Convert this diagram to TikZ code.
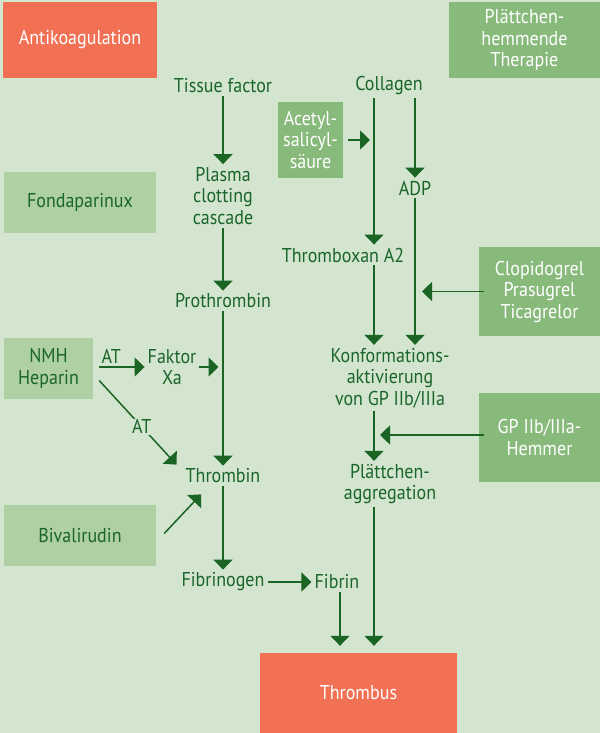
\documentclass[tikz,border=0pt]{standalone}
\usepackage{fontspec}
\setmainfont{PT Sans}[FakeStretch=0.9]
\usetikzlibrary{arrows.meta}

\definecolor{bg}{HTML}{D3E4CF}
\definecolor{darktext}{HTML}{1A6529}
\definecolor{arrowgreen}{HTML}{1A6424}
\definecolor{lightbox}{HTML}{AED0A2}
\definecolor{darkbox}{HTML}{88BA7B}
\definecolor{redbox}{HTML}{F27054}

\tikzset{
  every node/.style={font=\fontsize{20}{21.5}\selectfont, text=darktext, align=center, inner sep=3pt},
  lightfill/.style={fill=lightbox, inner sep=0pt},
  darkfill/.style={fill=darkbox, text=white, inner sep=0pt},
  redfill/.style={fill=redbox, text=white, inner sep=0pt},
  flow/.style={draw=arrowgreen, line width=1.5pt, -{Triangle[width=19pt,length=10pt]}},
}

\begin{document}
\begin{tikzpicture}[x=1pt,y=-1pt]
\fill[bg] (0,0) rectangle (600,733);
\useasboundingbox (0,0) rectangle (600,733);

\draw (80,40)      node (anti) [redfill, minimum width=154pt, minimum height=76pt] {Antikoagulation};
\draw (524.5,40)   node (ptt)  [darkfill, minimum width=151pt, minimum height=76pt] {Plättchen-\\hemmende\\Therapie};
\draw (80,202)     node (fonda) [lightfill, minimum width=152pt, minimum height=61pt] {Fondaparinux};
\draw (48.5,368.5) node (nmh)  [lightfill, minimum width=89pt, minimum height=61pt] {NMH\\Heparin};
\draw (80,535.5)   node (biv)  [lightfill, minimum width=152pt, minimum height=61pt] {Bivalirudin};
\draw (310.5,140)  node (asa)  [darkfill, minimum width=65pt, minimum height=76pt] {Acetyl-\\salicyl-\\säure};
\draw (539.5,291.5) node (clop) [darkfill, minimum width=121pt, minimum height=89pt] {Clopidogrel\\Prasugrel\\Ticagrelor};
\draw (539.5,437.5) node (gph)  [darkfill, minimum width=121pt, minimum height=89pt] {GP IIb/IIIa-\\Hemmer};
\draw (358.5,693)  node (thrombus) [redfill, minimum width=197pt, minimum height=80pt] {Thrombus};

\draw (223,86)   node (tf)       {Tissue factor};
\draw (223,196)  node (plasma)   {Plasma\\clotting\\cascade};
\draw (223,301)  node (proth)    {Prothrombin};
\draw (172,367)  node (xa)       {Faktor\\Xa};
\draw (223,476)  node (thrombin) {Thrombin};
\draw (223,582)  node (fgen)     {Fibrinogen};
\draw (337,582)  node (fibrin)   {Fibrin};

\draw (389,86)   node (coll)  {Collagen};
\draw (415,188)  node (adp)   {ADP};
\draw (343,255)  node (thx)   {Thromboxan A2};
\draw (390,378)  node (konf)  {Konformations-\\aktivierung\\von GP IIb/IIIa};
\draw (390,484)  node (aggr)  {Plättchen-\\aggregation};

\coordinate (txcol) at (374,0);
\coordinate (fbcol) at (340,0);

\draw[flow] (tf) -- (plasma);
\draw[flow] (plasma) -- (proth);
\draw[flow] (proth) -- (thrombin);
\draw[flow] (thrombin) -- (fgen);
\draw[flow] (fgen) -- (fibrin);
\draw[flow, shorten >=7pt] (fibrin.south -| fbcol) -- (thrombus.north -| fbcol);
\draw[flow, shorten >=7pt] (aggr.south -| txcol) -- (thrombus.north -| txcol);

\draw[flow, shorten <=6pt] (nmh.east |- xa) -- node[above, pos=0.35] {AT} (xa);
\draw[flow, shorten >=4.5pt] (xa) -- (xa -| proth);
\draw[flow] ([shift={(6,12)}]nmh.east) -- node[pos=0.55, fill=bg, inner sep=1pt] {AT} ([shift={(-6,-1)}]thrombin.north west);
\draw[flow] ([shift={(8,-2)}]biv.east) -- ([shift={(-22,8)}]thrombin.south);

\draw[flow] (coll.south -| txcol) -- (thx.north -| txcol);
\draw[flow] (coll.south -| adp) -- (adp);
\draw[flow, shorten <=5pt, shorten >=4pt] (asa) -- (asa -| txcol);
\draw[flow] (adp) -- (adp |- konf.north);
\draw[flow] (thx.south -| txcol) -- (konf.north -| txcol);
\draw[flow, shorten <=-5pt, shorten >=7pt] (clop) -- (clop -| adp);
\draw[flow] (konf.south -| txcol) -- (aggr.north -| txcol);
\draw[flow, shorten <=-5pt, shorten >=6pt] (gph.west |- 0,435) -- (txcol |- 0,435);
\end{tikzpicture}
\end{document}
